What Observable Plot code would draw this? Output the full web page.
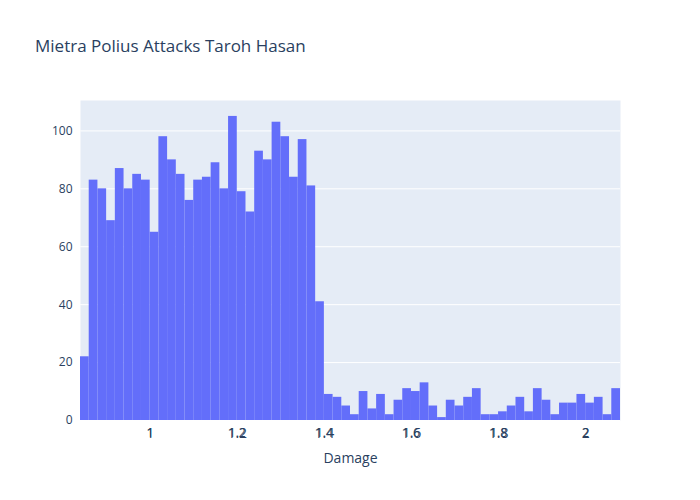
<!DOCTYPE html>
<html><head><meta charset="utf-8">
<script src="https://cdn.jsdelivr.net/npm/d3@7"></script>
<script src="https://cdn.jsdelivr.net/npm/@observablehq/plot@0.6"></script>
<style>body{margin:0;background:#fff;font-family:"Open Sans",sans-serif}#wrap{position:relative;width:700px;height:500px}
#title{position:absolute;left:35px;top:34px;font-size:17px;color:#2a3f5f}</style>
</head><body><div id="wrap"><div id="title">Mietra Polius Attacks Taroh Hasan</div></div>
<script>
const binStart = 0.84;
const binWidth = 0.02;
const counts = [22,83,80,69,87,80,85,83,65,98,90,85,76,83,84,89,80,105,79,72,93,90,103,98,84,97,81,41,
9,8,5,2,10,4,9,2,7,11,10,13,5,1,7,5,8,11,2,2,3,5,8,3,11,7,2,6,6,9,6,8,2,11];
const xTicks = [1,1.2,1.4,1.6,1.8,2];
const yTicks = [0,20,40,60,80,100];
const data = counts.map((c,i)=>({x1: +(binStart+i*binWidth).toFixed(2), x2: +(binStart+(i+1)*binWidth).toFixed(2), y: c}));
const chart = Plot.plot({
  width:700, height:500, marginLeft:80, marginRight:80, marginTop:100, marginBottom:80,
  style:{fontFamily:"'Open Sans',sans-serif", fontSize:"12px", color:"#2a3f5f", background:"#fff"},
  x:{domain:[0.84,2.08], ticks:xTicks, tickSize:0, tickPadding:8, tickFormat:d=>String(d), label:"Damage", labelAnchor:"center", labelOffset:42},
  y:{domain:[0,110.5], ticks:yTicks, tickSize:0, tickPadding:8, grid:true, label:"Number of Times", labelAnchor:"center", labelOffset:55, labelArrow:false},
  marks:[
    Plot.frame({fill:"#E5ECF6", stroke:null}),
    Plot.gridY(yTicks,{stroke:"#fff", strokeOpacity:1, strokeWidth:1}),
    Plot.rectY(data,{x1:"x1", x2:"x2", y:"y", fill:"#636EFA", inset:0}),
    Plot.axisX({ticks:xTicks, tickSize:0, tickPadding:8, tickFormat:d=>String(d), label:"Damage", labelAnchor:"center", labelOffset:42, labelArrow:false, fontSize:14}),
    Plot.axisX({ticks:xTicks, tickSize:0, tickPadding:8, tickFormat:d=>String(d), label:null}),
    Plot.axisY({ticks:yTicks, tickSize:0, tickPadding:8, label:null})
  ]
});
document.getElementById("wrap").appendChild(chart);
// Axis title styling
chart.querySelectorAll("text").forEach(t=>{});
</script></body></html>
